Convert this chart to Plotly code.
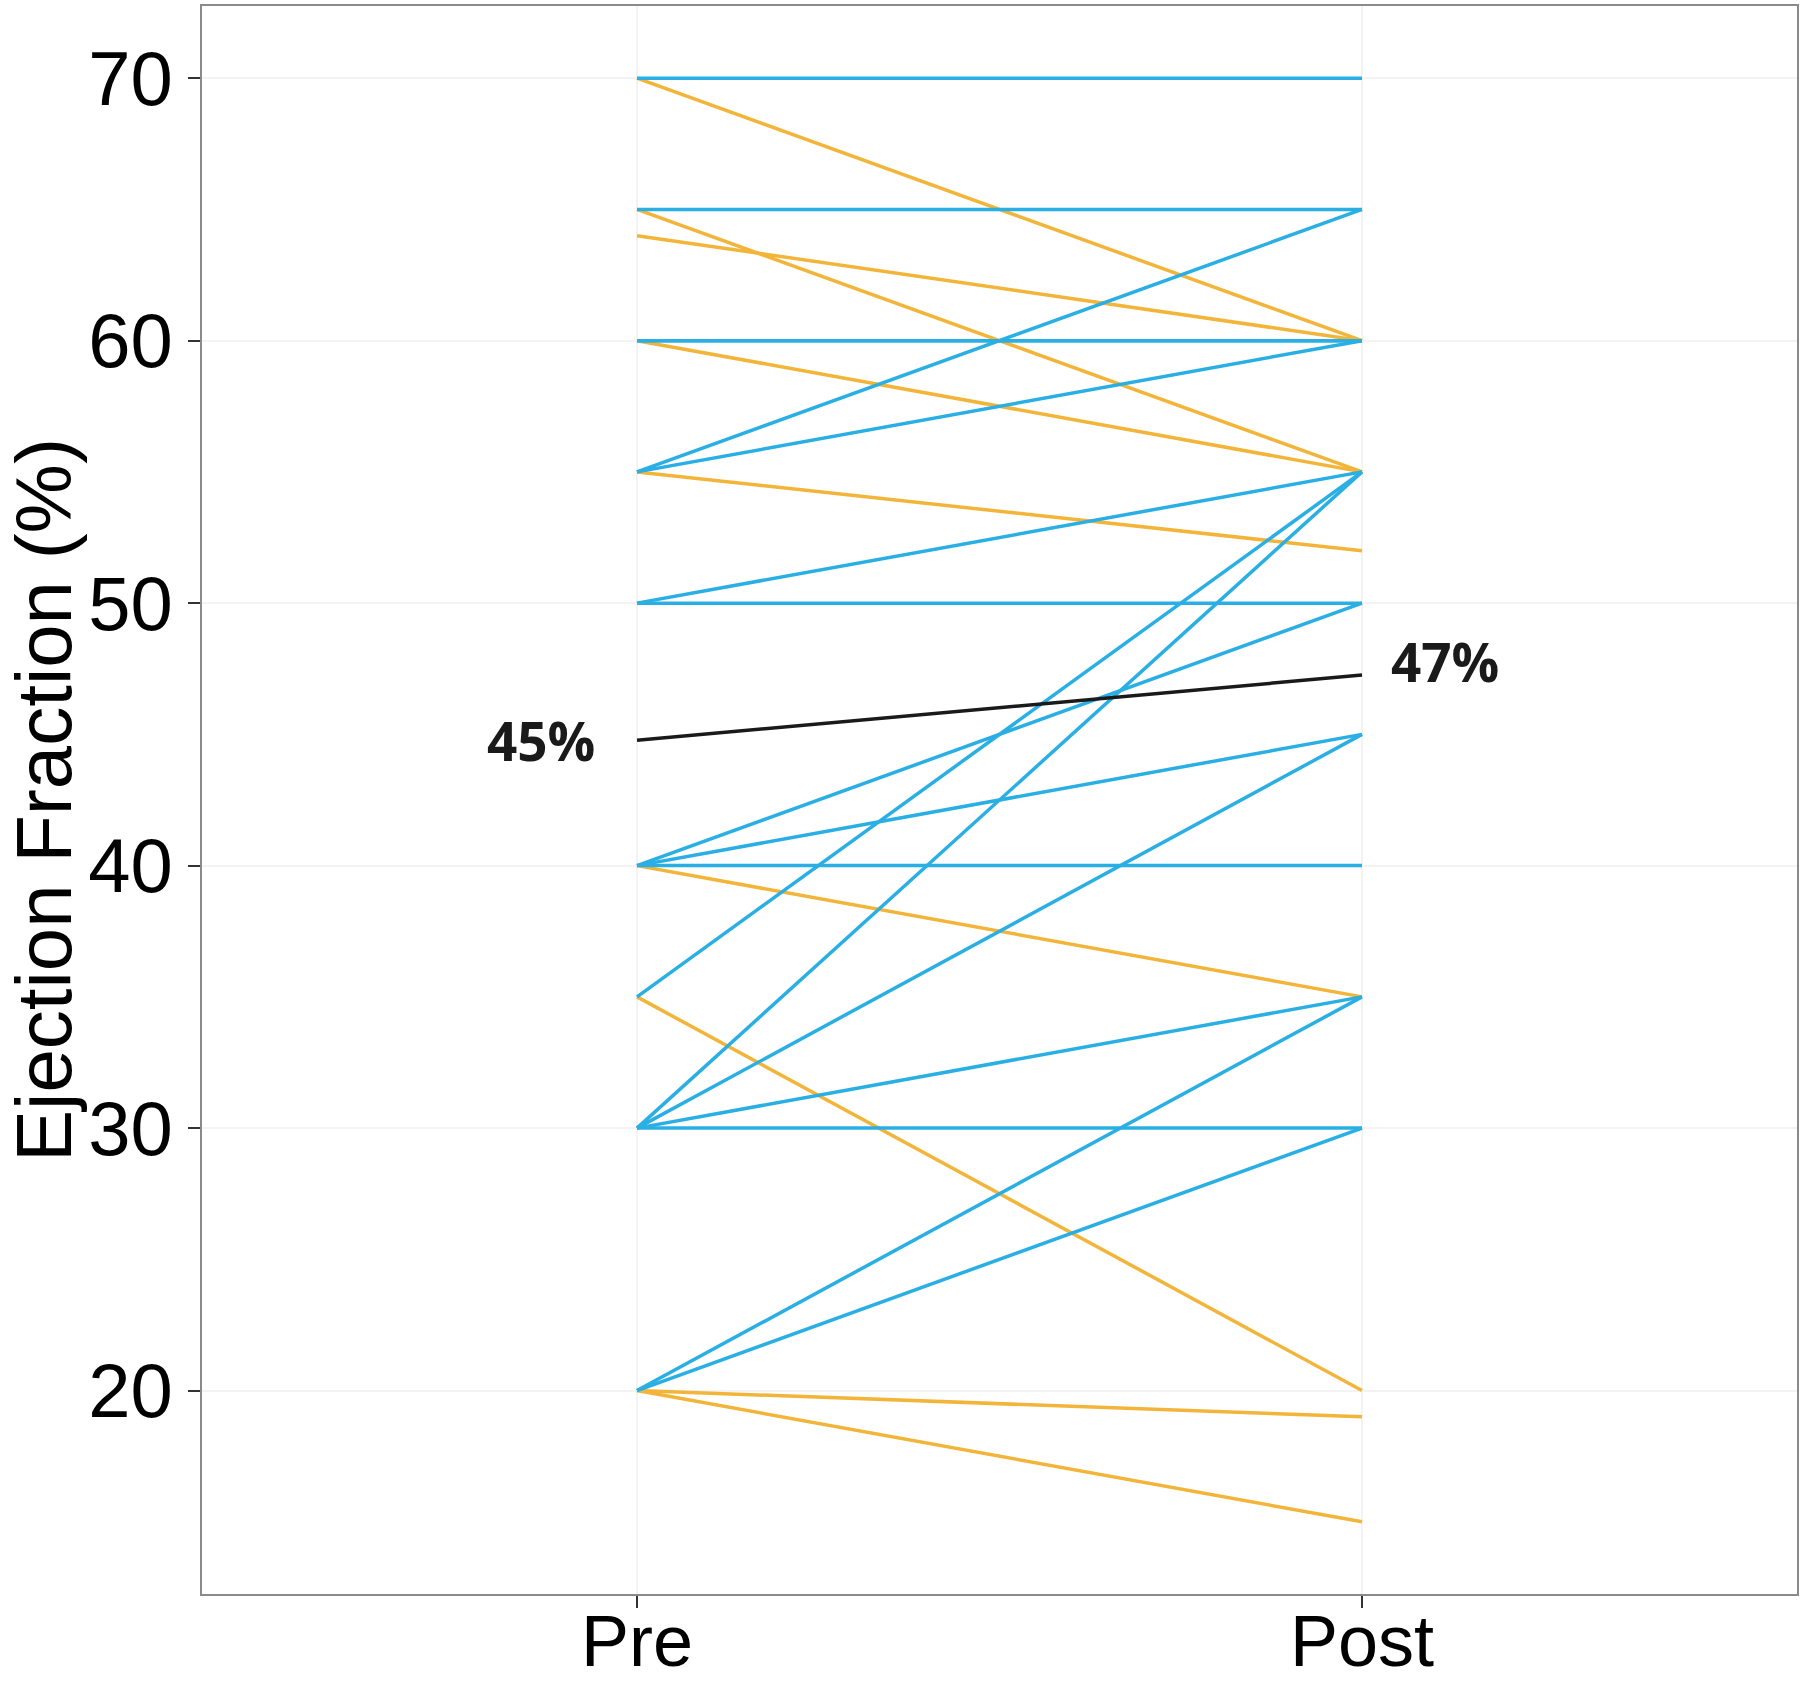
import numpy as np
import plotly.graph_objects as go

# paired ejection fraction values, one entry per patient
pre = [70, 70, 65, 65, 64, 60, 60, 60, 55, 55, 55, 50, 50,
       40, 40, 40, 40, 35, 35, 30, 30, 30, 30, 20, 20, 20, 20]
post = [70, 60, 65, 55, 60, 60, 60, 55, 65, 60, 52, 55, 50,
        50, 45, 40, 35, 55, 20, 55, 45, 35, 30, 35, 30, 19, 15]
timepoints = ["Pre", "Post"]
mean_labels = ["45%", "47%"]
y_ticks = [20, 30, 40, 50, 60, 70]

BLUE = "#2AAFE4"
ORANGE = "#F2B53A"

fig = go.Figure()

# decreases first, then increases / unchanged on top
for want_drop in (True, False):
    for a, b in zip(pre, post):
        if (b < a) != want_drop:
            continue
        fig.add_trace(go.Scatter(
            x=timepoints, y=[a, b], mode="lines",
            line=dict(color=ORANGE if want_drop else BLUE, width=3.5),
            showlegend=False, hoverinfo="skip"))

means = [np.mean(pre), np.mean(post)]
fig.add_trace(go.Scatter(x=timepoints, y=means, mode="lines",
                         line=dict(color="#1a1a1a", width=3.5),
                         showlegend=False, hoverinfo="skip"))

fig.add_annotation(x=timepoints[0], y=means[0], text="<b>" + mean_labels[0] + "</b>",
                   showarrow=False, xanchor="right", xshift=-40, yshift=0,
                   font=dict(family="Open Sans", size=53, color="#1a1a1a"))
fig.add_annotation(x=timepoints[1], y=means[1], text="<b>" + mean_labels[1] + "</b>",
                   showarrow=False, xanchor="left", xshift=27, yshift=14,
                   font=dict(family="Open Sans", size=53, color="#1a1a1a"))

axis_font = dict(family="Liberation Sans, Arial", size=76, color="black")

fig.update_xaxes(type="category", range=[-0.6, 1.6], automargin=False,
                 showline=True, mirror=True, linecolor="#8a8a8a", linewidth=2,
                 ticks="outside", ticklen=12, tickwidth=2, tickcolor="#333333",
                 showgrid=True, gridcolor="#F3F3F3", gridwidth=1.5,
                 tickfont=dict(family="Liberation Sans, Arial", size=72, color="black"),
                 zeroline=False, ticklabelstandoff=-28)
fig.update_yaxes(range=[12.25, 72.75], tickvals=y_ticks, automargin=False,
                 showline=True, mirror=True, linecolor="#8a8a8a", linewidth=2,
                 ticks="outside", ticklen=12, tickwidth=2, tickcolor="#333333",
                 showgrid=True, gridcolor="#F3F3F3", gridwidth=1.5,
                 tickfont=axis_font, zeroline=False,
                 title=dict(text="Ejection Fraction (%)",
                            font=dict(family="Liberation Sans, Arial", size=78, color="black"),
                            standoff=48))

fig.update_layout(width=1800, height=1682,
                  margin=dict(l=202, r=3, t=6, b=88),
                  plot_bgcolor="white", paper_bgcolor="white")

# drop the browser's default body margin so the figure sits at the page corner
fig.write_html("out.html", config={"displayModeBar": False},
               post_script="document.body.style.margin='0';")
